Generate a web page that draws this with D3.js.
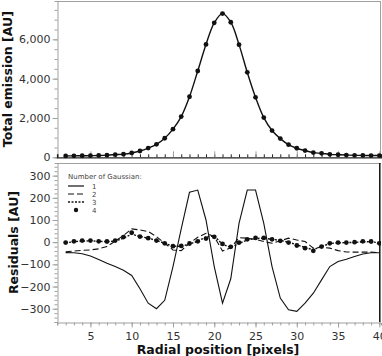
<!DOCTYPE html>
<html>
<head>
<meta charset="utf-8">
<script src="https://cdn.jsdelivr.net/npm/d3@7"></script>
<style>
  html, body { margin: 0; padding: 0; background: #fff; }
  svg { display: block; font-family: "DejaVu Sans", sans-serif; }
</style>
</head>
<body>
<svg id="chart" width="382" height="356"></svg>
<script>
// ---- data ----
const positions = d3.range(2, 41); // radial position 2..40
const totalEmission = [70, 75, 80, 85, 95, 110, 135, 160, 220, 320, 470, 660, 970, 1430, 2070, 3080, 4390, 5740, 6840, 7310, 6870, 5730, 4320, 3050, 2020, 1360, 950, 640, 460, 340, 240, 200, 150, 130, 115, 100, 95, 90, 90];
const resid1 = [-47, -48, -52, -62, -78, -95, -110, -127, -150, -210, -275, -300, -262, -110, 60, 225, 235, 100, -110, -275, -165, 85, 235, 235, 85, -110, -252, -305, -312, -275, -230, -170, -110, -87, -77, -65, -53, -48, -48];
const resid2 = [-43, -40, -37, -35, -30, -20, 5, 30, 60, 55, 48, 25, -5, -35, -38, -5, 22, 40, 25, -40, -25, 20, 18, 13, 3, -5, 6, 18, 10, 3, -27, -23, -27, -38, -44, -45, -45, -45, -47];
const resid3 = [-3, 2, 5, 6, 4, 2, 5, 18, 36, 26, 18, 8, -5, -18, -19, -8, 4, 24, 28, -10, -24, -6, 10, 17, 18, 13, 8, 0, -12, -24, -34, -20, -6, -3, -2, -1, 2, 2, -3];
const resid4 = [-2, 4, 7, 7, 4, 3, 7, 23, 43, 25, 18, 7, -5, -18, -17, -6, 4, 16, 24, -8, -21, -2, 13, 19, 19, 13, 6, -2, -15, -27, -39, -20, -5, -2, -2, 0, 4, 3, -5];
const legendLabels = ["1", "2", "3", "4"];
const topTicks = [0, 2000, 4000, 6000];
const botTicks = [-300, -200, -100, 0, 100, 200, 300];
const xTicks = [5, 10, 15, 20, 25, 30, 35, 40];

// ---- layout ----
const svg = d3.select("#chart");
const L = 57, R = 381;
const topY0 = 1, topY1 = 157.3;
const botY0 = 163, botY1 = 322;
const grey = "#a0a0a0";
const txt = "#333";

const x = d3.scaleLinear().domain([0.95, 40.2]).range([L, R]);
const yT = d3.scaleLinear().domain([0, 7950]).range([topY1, topY0]);
const yB = d3.scaleLinear().domain([-360, 357]).range([botY1, botY0]);

// ===== top panel =====
// frame
svg.append("line").attr("x1", L).attr("x2", R).attr("y1", topY0 + 0.5).attr("y2", topY0 + 0.5).attr("stroke", grey);
svg.append("line").attr("x1", R - 0.5).attr("x2", R - 0.5).attr("y1", topY0).attr("y2", topY1).attr("stroke", grey);

// left axis
const gTL = svg.append("g").attr("transform", `translate(${L + 0.5},0)`);
gTL.call(d3.axisLeft(yT).tickValues(d3.range(0, 8000, 500)).tickSize(3).tickFormat(""));
gTL.call(g => g.selectAll("path, line").attr("stroke", grey));
const gTL2 = svg.append("g").attr("transform", `translate(${L + 0.5},0)`);
gTL2.call(d3.axisLeft(yT).tickValues(topTicks).tickSize(5).tickPadding(2).tickFormat(d3.format(",")));
gTL2.select(".domain").remove();
gTL2.selectAll("line").attr("stroke", grey);
gTL2.selectAll("text").attr("fill", txt).style("font-size", "11px").style("font-family", "DejaVu Sans, sans-serif");

// bottom axis of top panel (ticks inward)
const gTB = svg.append("g").attr("transform", `translate(0,${topY1})`);
gTB.call(d3.axisTop(x).tickValues(d3.range(1, 41)).tickSize(3).tickFormat(""));
gTB.select(".domain").attr("stroke", "#222").attr("stroke-width", 1.2);
gTB.selectAll("line").attr("stroke", "#222");
const gTB2 = svg.append("g").attr("transform", `translate(0,${topY1})`);
gTB2.call(d3.axisTop(x).tickValues(xTicks).tickSize(6).tickFormat(""));
gTB2.select(".domain").remove();
gTB2.selectAll("line").attr("stroke", grey);

// curve + points
const topData = positions.map((p, i) => ({ p, v: totalEmission[i] }));
svg.append("path")
  .datum(topData)
  .attr("fill", "none").attr("stroke", "#111").attr("stroke-width", 1.4)
  .attr("d", d3.line().x(d => x(d.p)).y(d => yT(d.v)).curve(d3.curveCatmullRom));
svg.append("g").selectAll("circle").data(topData).join("circle")
  .attr("cx", d => x(d.p)).attr("cy", d => yT(d.v)).attr("r", 2.4).attr("fill", "#111");

// title
svg.append("text")
  .attr("transform", `translate(12,${(topY0 + topY1) / 2}) rotate(-90)`)
  .attr("text-anchor", "middle").attr("font-weight", "bold").attr("font-size", "12.5px").attr("fill", "#111")
  .text("Total emission [AU]");

// ===== bottom panel =====
svg.append("line").attr("x1", L).attr("x2", R).attr("y1", botY0 + 0.5).attr("y2", botY0 + 0.5).attr("stroke", grey);
svg.append("line").attr("x1", 379.8).attr("x2", 379.8).attr("y1", botY0).attr("y2", botY1).attr("stroke", "#111").attr("stroke-width", 1.5);

const gBL = svg.append("g").attr("transform", `translate(${L + 0.5},0)`);
gBL.call(d3.axisLeft(yB).tickValues(d3.range(-360, 360, 20)).tickSize(3).tickFormat(""));
gBL.selectAll("path, line").attr("stroke", grey);
const gBL2 = svg.append("g").attr("transform", `translate(${L + 0.5},0)`);
gBL2.call(d3.axisLeft(yB).tickValues(botTicks).tickSize(5).tickPadding(2).tickFormat(d3.format("d")));
gBL2.select(".domain").remove();
gBL2.selectAll("line").attr("stroke", grey);
gBL2.selectAll("text").attr("fill", txt).style("font-size", "11px").style("font-family", "DejaVu Sans, sans-serif");

const gBB = svg.append("g").attr("transform", `translate(0,${botY1 + 0.5})`);
gBB.call(d3.axisBottom(x).tickValues(d3.range(1, 41)).tickSize(3).tickFormat(""));
gBB.selectAll("path, line").attr("stroke", grey);
const gBB2 = svg.append("g").attr("transform", `translate(0,${botY1 + 0.5})`);
gBB2.call(d3.axisBottom(x).tickValues(xTicks).tickSize(5).tickPadding(5).tickFormat(d3.format("d")));
gBB2.select(".domain").remove();
gBB2.selectAll("line").attr("stroke", grey);
gBB2.selectAll("text").attr("fill", txt).style("font-size", "11px").style("font-family", "DejaVu Sans, sans-serif");

// residual series
const clip = svg.append("clipPath").attr("id", "cb").append("rect")
  .attr("x", L).attr("y", botY0).attr("width", R - L).attr("height", botY1 - botY0);
const gS = svg.append("g").attr("clip-path", "url(#cb)");
const mk = arr => positions.map((p, i) => ({ p, v: arr[i] }));
const ln = d3.line().x(d => x(d.p)).y(d => yB(d.v));
gS.append("path").datum(mk(resid1)).attr("fill", "none").attr("stroke", "#111").attr("stroke-width", 1.1).attr("d", ln);
gS.append("path").datum(mk(resid2)).attr("fill", "none").attr("stroke", "#111").attr("stroke-width", 1.1).attr("stroke-dasharray", "6,3").attr("d", ln);
gS.append("path").datum(mk(resid3)).attr("fill", "none").attr("stroke", "#111").attr("stroke-width", 1.4).attr("stroke-dasharray", "2,1.5").attr("d", ln);
gS.append("g").selectAll("circle").data(mk(resid4)).join("circle")
  .attr("cx", d => x(d.p)).attr("cy", d => yB(d.v)).attr("r", 2.4).attr("fill", "#111");

// legend
const lg = svg.append("g").attr("font-size", "7px").attr("fill", "#444");
lg.append("text").attr("x", 68).attr("y", 179).text("Number of Gaussian:");
const dashes = [null, "6,3", "2,1.5", null];
legendLabels.forEach((lab, i) => {
  const yy = 186 + i * 8;
  if (i < 3) {
    lg.append("line").attr("x1", 68).attr("x2", 84).attr("y1", yy).attr("y2", yy)
      .attr("stroke", "#111").attr("stroke-width", i === 2 ? 1.4 : 1.2)
      .attr("stroke-dasharray", dashes[i]);
  } else {
    lg.append("circle").attr("cx", 76).attr("cy", yy).attr("r", 2.2).attr("fill", "#111");
  }
  lg.append("text").attr("x", 92).attr("y", yy + 2.5).text(lab);
});

svg.append("text")
  .attr("transform", `translate(18,${(botY0 + botY1) / 2}) rotate(-90)`)
  .attr("text-anchor", "middle").attr("font-weight", "bold").attr("font-size", "12.5px").attr("fill", "#111")
  .text("Residuals [AU]");

svg.append("text")
  .attr("x", 218).attr("y", 354)
  .attr("text-anchor", "middle").attr("font-weight", "bold").attr("font-size", "12.5px").attr("fill", "#111")
  .text("Radial position [pixels]");
</script>
</body>
</html>
